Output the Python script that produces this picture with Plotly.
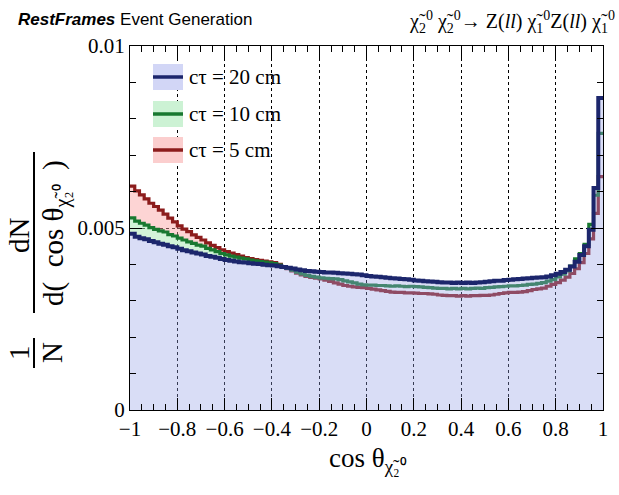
import numpy as np
import plotly.graph_objects as go

# ---------------- data (normalised histogram, values x 1e-3) ----------------
x_min, x_max, n_bins = -1.0, 1.0, 100

ct20 = [4.84, 4.76, 4.72, 4.69, 4.64, 4.61, 4.57, 4.54, 4.50, 4.47,
        4.43, 4.39, 4.36, 4.33, 4.30, 4.27, 4.23, 4.21, 4.18, 4.15,
        4.12, 4.10, 4.08, 4.06, 4.05, 4.03, 4.02, 4.01, 3.99, 3.98,
        3.97, 3.95, 3.93, 3.91, 3.89, 3.86, 3.84, 3.82, 3.81, 3.80,
        3.79, 3.78, 3.78, 3.77, 3.76, 3.75, 3.74, 3.73, 3.72, 3.70,
        3.68, 3.67, 3.66, 3.65, 3.63, 3.62, 3.61, 3.60, 3.59, 3.58,
        3.56, 3.55, 3.54, 3.53, 3.52, 3.51, 3.50, 3.50, 3.49, 3.50,
        3.49, 3.50, 3.49, 3.50, 3.51, 3.52, 3.54, 3.55, 3.55, 3.57,
        3.58, 3.59, 3.60, 3.61, 3.62, 3.63, 3.64, 3.65, 3.67, 3.70,
        3.74, 3.79, 3.85, 3.94, 4.07, 4.26, 4.50, 4.95, 6.10, 8.57]

ct10 = [5.28, 5.19, 5.13, 5.08, 5.01, 4.96, 4.92, 4.89, 4.82, 4.78,
        4.72, 4.67, 4.62, 4.58, 4.53, 4.50, 4.44, 4.40, 4.35, 4.30,
        4.26, 4.23, 4.20, 4.17, 4.15, 4.12, 4.10, 4.08, 4.06, 4.04,
        4.02, 3.98, 3.94, 3.89, 3.84, 3.79, 3.74, 3.70, 3.67, 3.65,
        3.63, 3.62, 3.61, 3.60, 3.58, 3.55, 3.52, 3.49, 3.46, 3.44,
        3.43, 3.43, 3.42, 3.42, 3.41, 3.40, 3.41, 3.40, 3.39, 3.40,
        3.39, 3.38, 3.37, 3.36, 3.35, 3.34, 3.34, 3.33, 3.34, 3.33,
        3.34, 3.33, 3.34, 3.35, 3.34, 3.36, 3.37, 3.38, 3.39, 3.40,
        3.41, 3.41, 3.42, 3.43, 3.45, 3.46, 3.48, 3.50, 3.54, 3.58,
        3.66, 3.73, 3.82, 3.95, 4.15, 4.30, 4.55, 5.10, 5.90, 7.60]

ct5 = [6.15, 6.02, 5.91, 5.80, 5.68, 5.59, 5.49, 5.38, 5.27, 5.17,
       5.06, 4.97, 4.90, 4.81, 4.74, 4.67, 4.59, 4.52, 4.46, 4.40,
       4.35, 4.31, 4.27, 4.23, 4.19, 4.16, 4.13, 4.11, 4.09, 4.07,
       4.05, 4.00, 3.94, 3.88, 3.82, 3.76, 3.71, 3.67, 3.64, 3.62,
       3.60, 3.57, 3.53, 3.49, 3.46, 3.42, 3.40, 3.38, 3.37, 3.36,
       3.34, 3.32, 3.30, 3.28, 3.26, 3.24, 3.23, 3.23, 3.22, 3.22,
       3.21, 3.20, 3.20, 3.19, 3.18, 3.16, 3.15, 3.14, 3.14, 3.13,
       3.14, 3.13, 3.14, 3.14, 3.15, 3.15, 3.16, 3.18, 3.20, 3.22,
       3.23, 3.23, 3.24, 3.25, 3.28, 3.31, 3.33, 3.35, 3.40, 3.45,
       3.50, 3.57, 3.65, 3.75, 3.88, 4.05, 4.30, 4.70, 5.40, 6.41]

series_labels = ["cτ = 20 cm", "cτ = 10 cm", "cτ = 5 cm"]
y_tick_vals = [0, 0.005, 0.01]
y_tick_text = ["0", "0.005", "0.01"]

# ---------------- styles ----------------
NAVY, GREEN, RED = "rgb(28,38,108)", "rgb(24,120,48)", "rgb(140,28,28)"
BLUE_FILL = "rgba(150,160,230,0.36)"
GREEN_FILL = "rgba(165,232,178,0.50)"
RED_FILL = "rgba(250,160,160,0.45)"
SERIF = "Liberation Serif, Times New Roman, serif"
SANS = "Liberation Sans, Arial, sans-serif"

W, H = 619, 495
L, R, T, B = 130, 16, 46, 85
PW, PH = W - L - R, H - T - B


def px(xp):
    return (xp - L) / PW


def py(yp):
    return (H - B - yp) / PH


scale = 1e-3
b = np.array(ct20) * scale
g = np.array(ct10) * scale
r = np.array(ct5) * scale
edges = np.linspace(x_min, x_max, n_bins + 1)


def step(v):
    v = list(v)
    return v + [v[-1]]


gb_top = np.maximum(g, b)
rb_top = np.maximum(r, gb_top)

fig = go.Figure()
common = dict(x=edges, mode="lines", line_shape="hv", hoverinfo="skip", showlegend=False)
# green band (above blue)
fig.add_trace(go.Scatter(y=step(b), line=dict(width=0, color=GREEN), **common))
fig.add_trace(go.Scatter(y=step(gb_top), fill="tonexty", fillcolor=GREEN_FILL,
                         line=dict(width=0, color=GREEN), **common))
# red band (above green / blue)
fig.add_trace(go.Scatter(y=step(gb_top), line=dict(width=0, color=RED), **common))
fig.add_trace(go.Scatter(y=step(rb_top), fill="tonexty", fillcolor=RED_FILL,
                         line=dict(width=0, color=RED), **common))
# lines
fig.add_trace(go.Scatter(y=step(r), line=dict(width=3.2, color=RED), **common))
fig.add_trace(go.Scatter(y=step(g), line=dict(width=3.2, color=GREEN), **common))
fig.add_trace(go.Scatter(y=step(b), fill="tozeroy", fillcolor=BLUE_FILL,
                         line=dict(width=4, color=NAVY), **common))

axis_common = dict(
    showline=True, linecolor="black", linewidth=1, mirror="allticks",
    ticks="inside", ticklen=12, tickcolor="black", tickwidth=1,
    showgrid=True, gridcolor="black", griddash="dot", gridwidth=1,
    zeroline=False, tickfont=dict(family=SERIF, size=21, color="black"),
)
fig.update_xaxes(range=[x_min, x_max], dtick=0.2, tick0=-1,
                 minor=dict(dtick=0.05, tick0=-1, ticks="inside", ticklen=6,
                            tickcolor="black", showgrid=False),
                 **axis_common)
fig.update_yaxes(range=[0, 0.01], tickmode="array", tickvals=y_tick_vals,
                 ticktext=y_tick_text,
                 minor=dict(dtick=0.001, tick0=0, ticks="inside", ticklen=6,
                            tickcolor="black", showgrid=False),
                 **axis_common)

shapes = []
annotations = []

# ---- legend (drawn manually, ROOT style) ----
leg_rows = [(77, NAVY, "rgb(210,214,246)"), (114, GREEN, "rgb(204,242,212)"),
            (150, RED, "rgb(251,206,206)")]
for (yc, lc, fc), lab in zip(leg_rows, series_labels):
    shapes.append(dict(type="rect", xref="paper", yref="paper",
                       x0=px(153), x1=px(183), y0=py(yc - 13), y1=py(yc + 13),
                       fillcolor=fc, line=dict(width=0)))
    shapes.append(dict(type="line", xref="paper", yref="paper",
                       x0=px(153), x1=px(183), y0=py(yc), y1=py(yc),
                       line=dict(color=lc, width=3.5)))
    annotations.append(dict(xref="paper", yref="paper", x=px(187), y=py(yc),
                            xanchor="left", yanchor="middle", showarrow=False,
                            text=lab, font=dict(family=SERIF, size=21, color="black")))

# ---- titles ----
annotations.append(dict(xref="paper", yref="paper", x=px(16), y=py(19),
                        xanchor="left", yanchor="middle", showarrow=False,
                        text="<b><i>RestFrames</i></b> Event Generation",
                        font=dict(family=SANS, size=17, color="black")))
annotations.append(dict(xref="paper", yref="paper", x=px(617), y=py(22),
                        xanchor="right", yanchor="middle", showarrow=False,
                        text="χ̃<sub>2</sub><sup>0</sup> χ̃<sub>2</sub><sup>0</sup>→ Z(<i>ll</i>) "
                             "χ̃<sub>1</sub><sup>0</sup>Z(<i>ll</i>) χ̃<sub>1</sub><sup>0</sup>",
                        font=dict(family=SERIF, size=20, color="black")))

# x axis title
annotations.append(dict(xref="paper", yref="paper", x=px(327), y=py(460),
                        xanchor="left", yanchor="middle", showarrow=False,
                        text="cos θ<sub>χ̃₂⁰</sub>",
                        font=dict(family=SERIF, size=27, color="black")))

# y axis title : 1/N dN/d(cos θ)
ytf = dict(family=SERIF, size=29, color="black")
annotations.append(dict(xref="paper", yref="paper", x=px(19), y=py(235),
                        textangle=-90, xanchor="center", yanchor="middle",
                        showarrow=False, text="dN", font=ytf))
annotations.append(dict(xref="paper", yref="paper", x=px(56), y=py(233),
                        textangle=-90, xanchor="center", yanchor="middle",
                        showarrow=False, text="d(  cos θ<sub>χ̃₂⁰</sub>  )", font=ytf))
annotations.append(dict(xref="paper", yref="paper", x=px(19), y=py(353),
                        textangle=-90, xanchor="center", yanchor="middle",
                        showarrow=False, text="1", font=ytf))
annotations.append(dict(xref="paper", yref="paper", x=px(52), y=py(353),
                        textangle=-90, xanchor="center", yanchor="middle",
                        showarrow=False, text="N", font=ytf))
shapes.append(dict(type="line", xref="paper", yref="paper", x0=px(34), x1=px(34),
                   y0=py(152), y1=py(313), line=dict(color="black", width=2)))
shapes.append(dict(type="line", xref="paper", yref="paper", x0=px(34), x1=px(34),
                   y0=py(338), y1=py(368), line=dict(color="black", width=2)))

fig.update_layout(
    width=W, height=H, margin=dict(l=L, r=R, t=T, b=B, pad=0),
    paper_bgcolor="white", plot_bgcolor="white", showlegend=False,
    shapes=shapes, annotations=annotations,
)
fig.write_html("out.html")
